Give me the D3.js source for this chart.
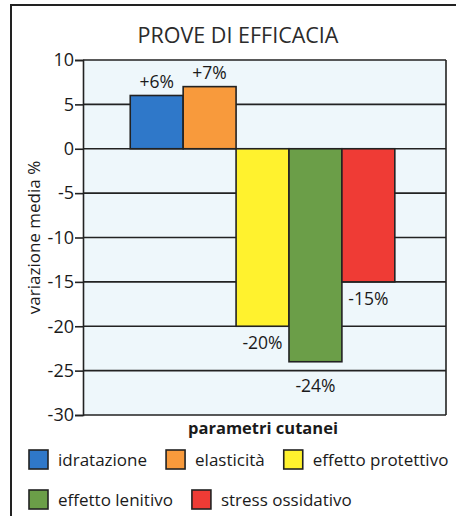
<!DOCTYPE html>
<html>
<head>
<meta charset="utf-8">
<script src="https://cdn.jsdelivr.net/npm/d3@7"></script>
<style>
  body { margin: 0; background: #fff; }
  svg { display: block; font-family: "Open Sans", "Noto Sans", sans-serif; }
</style>
</head>
<body>
<script>
// chart data
var categories = ['idratazione', 'elasticità', 'effetto protettivo', 'effetto lenitivo', 'stress ossidativo'];
var values = [6, 7, -20, -24, -15];
var labels = ['+6%', '+7%', '-20%', '-24%', '-15%'];
var colors = ['#2f78c9', '#f89a3c', '#fff22e', '#6b9e48', '#ef3b35'];
var yTicks = [10, 5, 0, -5, -10, -15, -20, -25, -30];

var width = 456;
var height = 516;
var ink = '#222';

var svg = d3.select('body').append('svg')
  .attr('width', width)
  .attr('height', height);

// outer frame (runs off the right and bottom edges)
svg.append('rect')
  .attr('x', 11).attr('y', 5)
  .attr('width', 470).attr('height', 530)
  .attr('fill', '#fff')
  .attr('stroke', ink)
  .attr('stroke-width', 2);

var plot = { left: 83, right: 446, top: 60, bottom: 415 };

var y = d3.scaleLinear().domain([-30, 10]).range([plot.bottom, plot.top]);
var x = d3.scaleBand()
  .domain(categories)
  .range([plot.left, plot.right])
  .paddingInner(0)
  .paddingOuter(0.93)
  .align(0.48);

// title
svg.append('text')
  .attr('x', 238).attr('y', 43)
  .attr('text-anchor', 'middle')
  .attr('font-size', 21.5)
  .attr('fill', '#2b2b2b')
  .text('PROVE DI EFFICACIA');

// plot background
svg.append('rect')
  .attr('x', plot.left).attr('y', plot.top)
  .attr('width', plot.right - plot.left)
  .attr('height', plot.bottom - plot.top)
  .attr('fill', '#eef7fb');

// gridlines
svg.append('g').selectAll('line').data(yTicks)
  .enter().append('line')
  .attr('x1', plot.left).attr('x2', plot.right)
  .attr('y1', function (d) { return y(d); })
  .attr('y2', function (d) { return y(d); })
  .attr('stroke', ink)
  .attr('stroke-width', 1.6);

// right border
svg.append('line')
  .attr('x1', plot.right).attr('x2', plot.right)
  .attr('y1', plot.top).attr('y2', plot.bottom)
  .attr('stroke', ink).attr('stroke-width', 1.6);

// bars
svg.append('g').selectAll('rect').data(values)
  .enter().append('rect')
  .attr('x', function (d, i) { return x(categories[i]); })
  .attr('y', function (d) { return y(Math.max(0, d)); })
  .attr('width', x.bandwidth())
  .attr('height', function (d) { return Math.abs(y(d) - y(0)); })
  .attr('fill', function (d, i) { return colors[i]; })
  .attr('stroke', ink)
  .attr('stroke-width', 1.6);

// value labels
svg.append('g').selectAll('text').data(values)
  .enter().append('text')
  .attr('x', function (d, i) { return x(categories[i]) + x.bandwidth() / 2; })
  .attr('y', function (d) {
    if (d >= 0) return y(d) - 8;
    var top = y(d) + 10;
    // keep the label clear of a gridline it would sit on
    var hit = yTicks.filter(function (t) { return y(t) > top - 2 && y(t) < top + 14; });
    if (hit.length) top = y(hit[0]) + 8;
    return top + 13;
  })
  .attr('text-anchor', 'middle')
  .attr('font-size', 17.5)
  .attr('fill', '#1a1a1a')
  .text(function (d, i) { return labels[i]; });

// y axis
var yAxis = svg.append('g')
  .attr('transform', 'translate(' + plot.left + ',0)')
  .call(d3.axisLeft(y).tickValues(yTicks).tickSize(8).tickPadding(1)
    .tickFormat(function (d) { return String(d); }));
yAxis.select('.domain').attr('stroke', ink).attr('stroke-width', 1.6);
yAxis.selectAll('.tick line').attr('stroke', ink).attr('stroke-width', 1.6);
yAxis.selectAll('.tick text')
  .attr('font-family', '"Open Sans", "Noto Sans", sans-serif')
  .attr('font-size', 18)
  .attr('fill', '#1a1a1a');

// axis titles
svg.append('text')
  .attr('transform', 'translate(40,' + ((plot.top + plot.bottom) / 2) + ') rotate(-90)')
  .attr('text-anchor', 'middle')
  .attr('font-size', 17)
  .attr('fill', '#1a1a1a')
  .text('variazione media %');

svg.append('text')
  .attr('x', 263).attr('y', 434)
  .attr('text-anchor', 'middle')
  .attr('font-size', 16.5)
  .attr('font-weight', 'bold')
  .attr('fill', '#1a1a1a')
  .text('parametri cutanei');

// legend, two rows
var rows = [[0, 1, 2], [3, 4]];
rows.forEach(function (row, r) {
  var cx = 29;
  var cy = 450 + r * 40;
  row.forEach(function (i) {
    var g = svg.append('g');
    g.append('rect')
      .attr('x', cx).attr('y', cy)
      .attr('width', 19).attr('height', 19)
      .attr('fill', colors[i])
      .attr('stroke', ink)
      .attr('stroke-width', 1.6);
    var t = g.append('text')
      .attr('x', cx + 29).attr('y', cy + 16)
      .attr('font-size', 17)
      .attr('fill', '#1a1a1a')
      .text(categories[i]);
    cx += 29 + t.node().getComputedTextLength() + 19;
  });
});
</script>
</body>
</html>
